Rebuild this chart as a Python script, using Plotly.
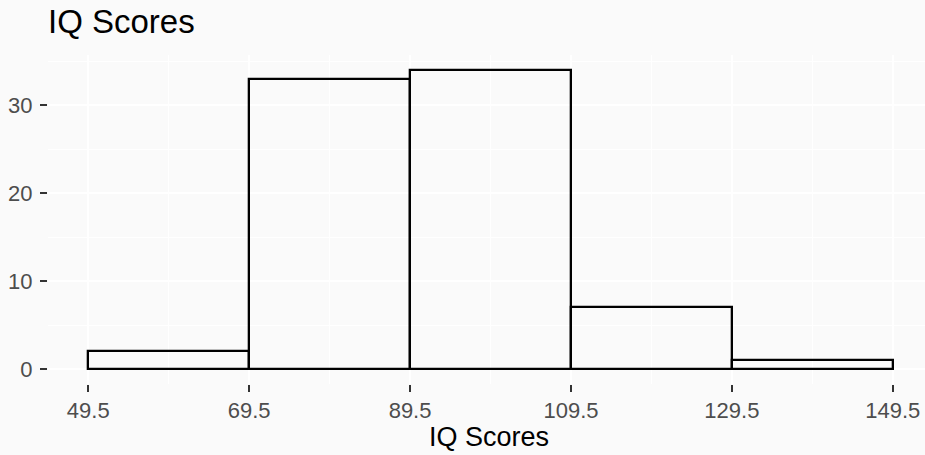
import plotly.graph_objects as go

# Data
bin_edges = [49.5, 69.5, 89.5, 109.5, 129.5, 149.5]
counts = [2, 33, 34, 7, 1]
title_text = "IQ Scores"
x_title = "IQ Scores"

centers = [(bin_edges[i] + bin_edges[i + 1]) / 2 for i in range(len(counts))]
widths = [bin_edges[i + 1] - bin_edges[i] for i in range(len(counts))]

BG = "#fafafa"
FONT = "Liberation Sans, Arial, Helvetica, sans-serif"

fig = go.Figure(
    go.Bar(
        x=centers,
        y=counts,
        width=widths,
        marker=dict(color="rgba(0,0,0,0)", line=dict(color="black", width=2.3)),
        hoverinfo="x+y",
    )
)

fig.update_layout(
    width=925,
    height=455,
    margin=dict(l=48, r=0, t=55, b=71),
    paper_bgcolor=BG,
    plot_bgcolor=BG,
    showlegend=False,
    font=dict(family=FONT, color="#4d4d4d", size=22),
    title=dict(
        text=title_text,
        font=dict(family=FONT, size=33, color="black"),
        xref="container",
        yref="container",
        x=48 / 925,
        xanchor="left",
        y=1 - 21.8 / 455,
        yanchor="middle",
    ),
    bargap=0,
)

fig.update_xaxes(
    range=[44.5, 153.5],
    tickmode="array",
    tickvals=bin_edges,
    ticktext=[f"{v:.1f}" for v in bin_edges],
    ticks="outside",
    ticklen=7,
    tickwidth=2,
    tickcolor="#333333",
    showgrid=True,
    gridcolor="white",
    gridwidth=2,
    minor=dict(
        tickmode="array",
        tickvals=[59.5, 79.5, 99.5, 119.5, 139.5],
        showgrid=True,
        gridcolor="white",
        gridwidth=1.2,
        ticks="",
    ),
    zeroline=False,
    showline=False,
    tickfont=dict(size=22, color="#4d4d4d"),
    ticklabelstandoff=0,
)

fig.update_yaxes(
    range=[-1.7, 35.7],
    tickvals=[0, 10, 20, 30],
    ticks="outside",
    ticklen=7,
    tickwidth=2,
    tickcolor="#333333",
    showgrid=True,
    gridcolor="white",
    gridwidth=2,
    minor=dict(
        tickmode="array",
        tickvals=[5, 15, 25, 35],
        showgrid=True,
        gridcolor="white",
        gridwidth=1.2,
        ticks="",
    ),
    zeroline=False,
    showline=False,
    tickfont=dict(size=22, color="#4d4d4d"),
    ticklabelstandoff=3,
)

fig.add_annotation(
    text=x_title,
    xref="paper",
    yref="paper",
    x=(489 - 48) / (925 - 48),
    y=-(437 - 384) / 329,
    xanchor="center",
    yanchor="middle",
    showarrow=False,
    font=dict(family=FONT, size=27, color="black"),
)

fig.write_html(
    "out.html",
    config={"displayModeBar": False},
    post_script=(
        "document.body.style.margin='0';"
        "document.body.style.padding='0';"
        "document.body.style.background='#fafafa';"
        "document.body.style.overflow='hidden';"
    ),
)
